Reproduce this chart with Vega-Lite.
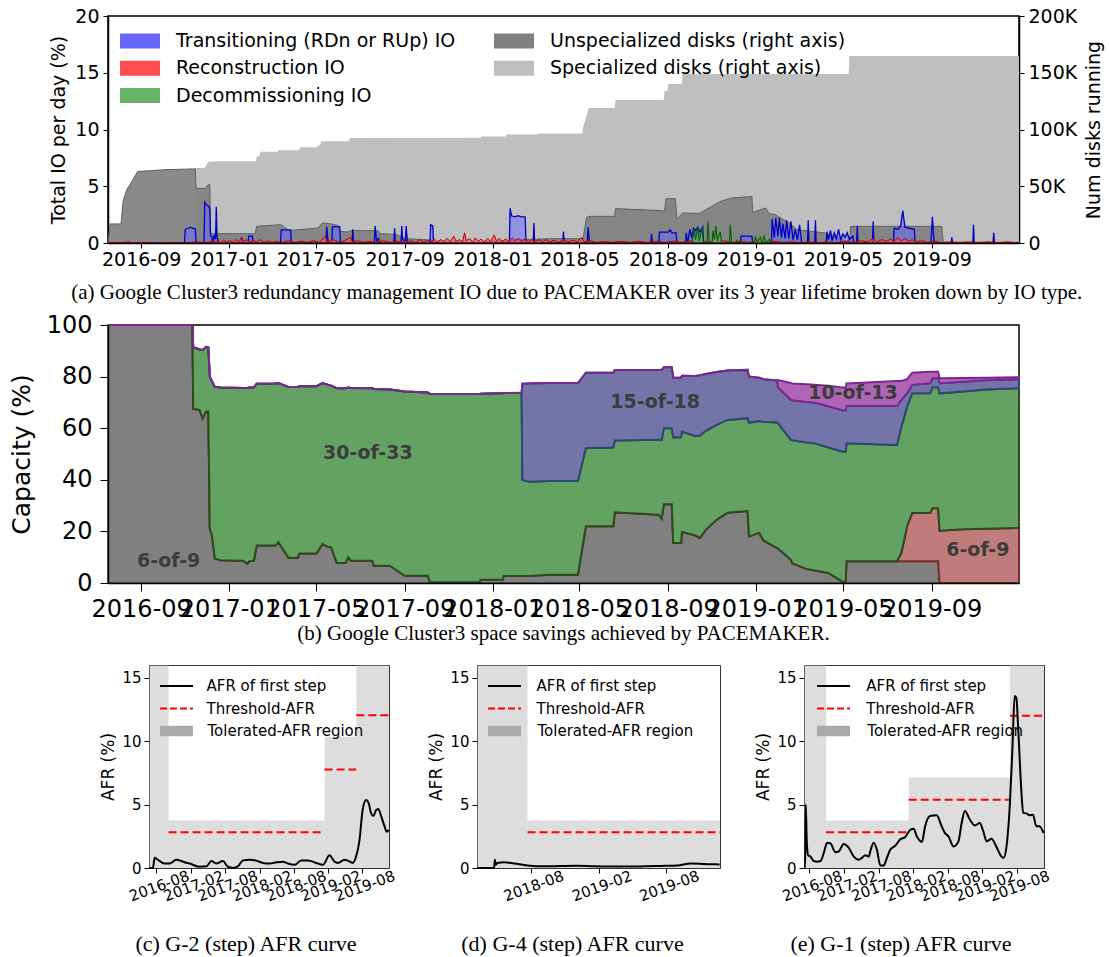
{
"$schema": "https://vega.github.io/schema/vega-lite/v6.json",
"background": "white",
"padding": {"left": 8, "top": 6, "right": 0, "bottom": 0},
"spacing": 8,
"resolve": {"scale": {"color": "independent", "stroke": "independent", "fill": "independent"}, "legend": {"color": "independent", "stroke": "independent", "fill": "independent"}},
"config": {
  "font": "DejaVu Sans",
  "axis": {"grid": false, "domainColor": "black", "tickColor": "black", "labelColor": "black", "titleColor": "black", "titleFontWeight": "normal", "labelFont": "DejaVu Sans", "titleFont": "DejaVu Sans"},
  "title": {"font": "Liberation Serif", "fontWeight": "normal", "color": "black", "orient": "bottom", "anchor": "middle"},
  "legend": {"labelFont": "DejaVu Sans", "labelColor": "black", "padding": 0, "labelLimit": 500}
},
"datasets": {
  "spec": [
    {"d":"2016-11-15","k":66},{"d":"2016-11-28","k":66},{"d":"2016-12-03","k":71.5},{"d":"2016-12-18","k":72},{"d":"2017-02-07","k":72},{"d":"2017-02-08","k":76.5},{"d":"2017-02-12","k":76.5},{"d":"2017-02-13","k":80.3},{"d":"2017-03-09","k":80.3},{"d":"2017-03-10","k":81.8},{"d":"2017-04-08","k":81.8},{"d":"2017-04-09","k":84.4},{"d":"2017-05-03","k":84.4},{"d":"2017-05-04","k":86.2},{"d":"2017-05-07","k":86.2},{"d":"2017-05-08","k":89.7},{"d":"2017-06-16","k":89.7},{"d":"2017-06-17","k":92.6},{"d":"2017-12-15","k":92.8},{"d":"2017-12-16","k":93.8},{"d":"2018-01-19","k":93.8},{"d":"2018-01-20","k":95.6},{"d":"2018-03-04","k":95.6},{"d":"2018-03-05","k":96.5},{"d":"2018-05-05","k":96.5},{"d":"2018-05-06","k":101.5},{"d":"2018-05-14","k":119},{"d":"2018-06-19","k":119},{"d":"2018-06-20","k":126},{"d":"2018-08-26","k":126},{"d":"2018-08-27","k":134},{"d":"2018-08-31","k":134},{"d":"2018-09-01","k":140},{"d":"2018-09-20","k":140},{"d":"2018-09-21","k":149},{"d":"2019-05-09","k":149},{"d":"2019-05-10","k":164.7},{"d":"2019-12-31","k":164.7}
  ],
  "unspec": [
    {"d":"2016-07-17","k":0},{"d":"2016-07-20","k":16.8},{"d":"2016-08-04","k":16.8},{"d":"2016-08-07","k":36.8},{"d":"2016-08-12","k":47},{"d":"2016-08-19","k":54},{"d":"2016-08-27","k":63},{"d":"2016-10-08","k":64.7},{"d":"2016-11-15","k":65.3},{"d":"2016-11-16","k":48},{"d":"2016-11-28","k":48},{"d":"2016-12-03","k":51.5},{"d":"2016-12-05","k":51.5},{"d":"2016-12-06","k":8.5},{"d":"2016-12-18","k":8.2},{"d":"2017-02-06","k":8.2},{"d":"2017-02-08","k":14.7},{"d":"2017-03-10","k":16},{"d":"2017-03-14","k":16},{"d":"2017-03-25","k":10.9},{"d":"2017-04-09","k":11.8},{"d":"2017-05-04","k":13.2},{"d":"2017-05-10","k":17.6},{"d":"2017-05-20","k":17},{"d":"2017-05-31","k":15.6},{"d":"2017-06-04","k":10.3},{"d":"2017-06-14","k":9.7},{"d":"2017-06-19","k":10.9},{"d":"2017-07-26","k":10.9},{"d":"2017-07-29","k":8.2},{"d":"2017-08-20","k":7.5},{"d":"2017-09-04","k":3.8},{"d":"2017-10-08","k":2.6},{"d":"2017-10-13","k":0.6},{"d":"2017-12-21","k":0.6},{"d":"2017-12-22","k":1.5},{"d":"2018-01-25","k":1.5},{"d":"2018-01-26","k":2.6},{"d":"2018-03-20","k":3.8},{"d":"2018-05-06","k":3.8},{"d":"2018-05-11","k":22.6},{"d":"2018-05-16","k":23.5},{"d":"2018-06-19","k":23.5},{"d":"2018-06-20","k":30.3},{"d":"2018-08-24","k":28.5},{"d":"2018-08-27","k":28},{"d":"2018-08-29","k":39},{"d":"2018-09-11","k":39},{"d":"2018-09-13","k":21},{"d":"2018-09-21","k":26.5},{"d":"2018-10-14","k":26},{"d":"2018-10-29","k":31.5},{"d":"2018-11-13","k":36.8},{"d":"2018-11-28","k":39.7},{"d":"2018-12-26","k":41},{"d":"2018-12-27","k":27},{"d":"2019-01-14","k":30.9},{"d":"2019-01-19","k":25.9},{"d":"2019-01-27","k":25},{"d":"2019-02-16","k":17.6},{"d":"2019-02-26","k":11.8},{"d":"2019-04-07","k":8.8},{"d":"2019-04-12","k":7.4},{"d":"2019-05-05","k":2},{"d":"2019-05-10","k":2},{"d":"2019-05-12","k":14.7},{"d":"2019-09-15","k":14.7},{"d":"2019-09-17","k":0.8},{"d":"2019-12-31","k":0.5}
  ],
  "tr": [
    {"d":"2016-07-17","v":0},{"d":"2016-10-31","v":0},{"d":"2016-11-01","v":1.2},{"d":"2016-11-05","v":1.3},{"d":"2016-11-08","v":1.4},{"d":"2016-11-11","v":1.3},{"d":"2016-11-15","v":1.25},{"d":"2016-11-16","v":0},{"d":"2016-11-27","v":0},{"d":"2016-11-28","v":3.6},{"d":"2016-11-30","v":3.4},{"d":"2016-12-02","v":3.3},{"d":"2016-12-05","v":3.1},{"d":"2016-12-06","v":0.7},{"d":"2016-12-08","v":0.5},{"d":"2016-12-09","v":0},{"d":"2016-12-11","v":0.7},{"d":"2016-12-13","v":0.3},{"d":"2016-12-14","v":3.2},{"d":"2016-12-15","v":0.6},{"d":"2016-12-17","v":0},
    {"d":"2017-01-17","v":0},{"d":"2017-01-18","v":0.5},{"d":"2017-01-19","v":0},{"d":"2017-01-27","v":0},{"d":"2017-01-28","v":0.6},{"d":"2017-02-02","v":0.6},{"d":"2017-02-03","v":0},{"d":"2017-03-13","v":0},{"d":"2017-03-14","v":1.15},{"d":"2017-03-27","v":1.15},{"d":"2017-03-28","v":0},{"d":"2017-05-15","v":0},{"d":"2017-05-16","v":1.45},{"d":"2017-05-18","v":0},{"d":"2017-05-23","v":0},{"d":"2017-05-24","v":1.45},{"d":"2017-06-03","v":1.45},{"d":"2017-06-04","v":0},{"d":"2017-06-20","v":0},{"d":"2017-06-21","v":1.2},{"d":"2017-06-22","v":0.2},{"d":"2017-06-24","v":0},{"d":"2017-07-21","v":0},{"d":"2017-07-22","v":1.5},{"d":"2017-07-24","v":0.2},{"d":"2017-07-27","v":0.4},{"d":"2017-07-28","v":0},{"d":"2017-08-17","v":0},{"d":"2017-08-18","v":1.3},{"d":"2017-08-19","v":0.2},{"d":"2017-08-21","v":0},{"d":"2017-08-27","v":0},{"d":"2017-08-28","v":1.5},{"d":"2017-08-29","v":0.3},{"d":"2017-09-02","v":0.2},{"d":"2017-09-03","v":1.5},{"d":"2017-09-05","v":0},{"d":"2017-10-06","v":0},{"d":"2017-10-07","v":1.6},{"d":"2017-10-10","v":1.5},{"d":"2017-10-11","v":0},
    {"d":"2018-01-24","v":0},{"d":"2018-01-25","v":3.05},{"d":"2018-01-27","v":2.4},{"d":"2018-02-01","v":2.3},{"d":"2018-02-05","v":2.4},{"d":"2018-02-10","v":2.3},{"d":"2018-02-15","v":2.3},{"d":"2018-02-16","v":0},{"d":"2018-02-26","v":0},{"d":"2018-02-27","v":1.75},{"d":"2018-02-28","v":0},{"d":"2018-04-08","v":0},{"d":"2018-04-09","v":1.0},{"d":"2018-04-10","v":0},{"d":"2018-05-12","v":0},{"d":"2018-05-13","v":1.4},{"d":"2018-05-15","v":0},{"d":"2018-08-08","v":0},{"d":"2018-08-09","v":0.8},{"d":"2018-08-10","v":0},{"d":"2018-08-19","v":0},{"d":"2018-08-20","v":0.95},{"d":"2018-09-01","v":0.95},{"d":"2018-09-04","v":1.15},{"d":"2018-09-06","v":0.9},{"d":"2018-09-12","v":0.9},{"d":"2018-09-13","v":0},{"d":"2018-09-25","v":0},{"d":"2018-09-26","v":0.9},{"d":"2018-09-28","v":0},{"d":"2018-10-01","v":1.2},{"d":"2018-10-04","v":0.4},{"d":"2018-10-06","v":1.3},{"d":"2018-10-09","v":1.1},{"d":"2018-10-12","v":1.4},{"d":"2018-10-15","v":1.0},{"d":"2018-10-19","v":1.4},{"d":"2018-10-20","v":0},{"d":"2018-12-10","v":0},{"d":"2018-12-11","v":0.6},{"d":"2018-12-26","v":0.6},{"d":"2018-12-27","v":0},
    {"d":"2019-01-22","v":0},{"d":"2019-01-23","v":2.1},{"d":"2019-01-26","v":0.5},{"d":"2019-01-28","v":2.2},{"d":"2019-01-31","v":0.6},{"d":"2019-02-02","v":2.2},{"d":"2019-02-05","v":0.5},{"d":"2019-02-07","v":1.7},{"d":"2019-02-10","v":0.4},{"d":"2019-02-12","v":2.0},{"d":"2019-02-15","v":0.4},{"d":"2019-02-18","v":1.9},{"d":"2019-02-21","v":0.3},{"d":"2019-02-24","v":1.2},{"d":"2019-02-27","v":0.3},{"d":"2019-03-02","v":1.6},{"d":"2019-03-05","v":0},{"d":"2019-03-13","v":0},{"d":"2019-03-14","v":2.0},{"d":"2019-03-15","v":0},{"d":"2019-03-23","v":0},{"d":"2019-03-24","v":2.0},{"d":"2019-03-25","v":0},{"d":"2019-04-08","v":0},{"d":"2019-04-09","v":1.0},{"d":"2019-04-11","v":0.3},{"d":"2019-04-14","v":1.1},{"d":"2019-04-16","v":0.2},{"d":"2019-04-19","v":0.9},{"d":"2019-04-22","v":0.4},{"d":"2019-04-25","v":1.2},{"d":"2019-04-28","v":0.3},{"d":"2019-05-01","v":0.8},{"d":"2019-05-04","v":0.5},{"d":"2019-05-07","v":0.9},{"d":"2019-05-10","v":0.3},{"d":"2019-05-15","v":0.6},{"d":"2019-05-16","v":0},{"d":"2019-05-20","v":0},{"d":"2019-05-21","v":1.5},{"d":"2019-05-22","v":0},{"d":"2019-06-11","v":0},{"d":"2019-06-12","v":1.9},{"d":"2019-06-13","v":0},{"d":"2019-07-10","v":0},{"d":"2019-07-11","v":1.3},{"d":"2019-07-16","v":1.2},{"d":"2019-07-20","v":1.5},{"d":"2019-07-23","v":2.85},{"d":"2019-07-26","v":1.4},{"d":"2019-08-01","v":1.3},{"d":"2019-08-08","v":1.2},{"d":"2019-08-09","v":0},{"d":"2019-08-31","v":0},{"d":"2019-09-02","v":2.3},{"d":"2019-09-04","v":0.3},{"d":"2019-09-06","v":0},{"d":"2019-09-28","v":0},{"d":"2019-09-29","v":0.5},{"d":"2019-09-30","v":0},{"d":"2019-10-28","v":0},{"d":"2019-10-29","v":1.6},{"d":"2019-10-30","v":0},{"d":"2019-11-25","v":0},{"d":"2019-11-26","v":0.9},{"d":"2019-11-27","v":0},{"d":"2019-12-31","v":0}
  ],
  "rc": [
    {"d":"2016-07-17","v":0},{"d":"2016-07-25","v":0.05},{"d":"2016-08-02","v":0},{"d":"2016-08-15","v":0.1},{"d":"2016-08-20","v":0},{"d":"2016-09-10","v":0.05},{"d":"2016-09-20","v":0},{"d":"2016-10-15","v":0.05},{"d":"2016-10-25","v":0},{"d":"2016-11-20","v":0.1},{"d":"2016-11-28","v":0},{"d":"2016-12-08","v":0.15},{"d":"2016-12-12","v":0.05},{"d":"2016-12-16","v":0.2},{"d":"2016-12-20","v":0.05},{"d":"2016-12-24","v":0.25},{"d":"2016-12-28","v":0.1},
    {"d":"2017-01-02","v":0.2},{"d":"2017-01-06","v":0.05},{"d":"2017-01-10","v":0.3},{"d":"2017-01-14","v":0.1},{"d":"2017-01-18","v":0.5},{"d":"2017-01-21","v":0.1},{"d":"2017-01-25","v":0.3},{"d":"2017-01-29","v":0.05},{"d":"2017-02-03","v":0.25},{"d":"2017-02-08","v":0.1},{"d":"2017-02-13","v":0.3},{"d":"2017-02-18","v":0.05},{"d":"2017-02-24","v":0.2},{"d":"2017-03-01","v":0.05},{"d":"2017-03-08","v":0.15},{"d":"2017-03-15","v":0.02},{"d":"2017-03-24","v":0.2},{"d":"2017-04-02","v":0.05},{"d":"2017-04-10","v":0.15},{"d":"2017-04-20","v":0.05},{"d":"2017-04-28","v":0.2},{"d":"2017-05-06","v":0.05},{"d":"2017-05-14","v":0.6},{"d":"2017-05-17","v":0.1},{"d":"2017-05-25","v":0.3},{"d":"2017-06-02","v":0.05},{"d":"2017-06-10","v":0.2},{"d":"2017-06-17","v":0.5},{"d":"2017-06-21","v":0.1},{"d":"2017-06-28","v":0.2},{"d":"2017-07-06","v":0.05},{"d":"2017-07-14","v":0.15},{"d":"2017-07-24","v":0.05},{"d":"2017-08-03","v":0.2},{"d":"2017-08-12","v":0.05},{"d":"2017-08-22","v":0.15},{"d":"2017-09-01","v":0.05},{"d":"2017-09-10","v":0.2},{"d":"2017-09-16","v":0.05},{"d":"2017-09-22","v":0.3},{"d":"2017-09-27","v":0.1},{"d":"2017-10-02","v":0.25},{"d":"2017-10-07","v":0.05},{"d":"2017-10-12","v":0.35},{"d":"2017-10-16","v":0.1},{"d":"2017-10-21","v":0.3},{"d":"2017-10-25","v":0.15},{"d":"2017-10-30","v":0.4},{"d":"2017-11-03","v":0.1},{"d":"2017-11-08","v":0.6},{"d":"2017-11-11","v":0.15},{"d":"2017-11-16","v":0.3},{"d":"2017-11-20","v":0.1},{"d":"2017-11-23","v":0.9},{"d":"2017-11-25","v":0.2},{"d":"2017-11-30","v":0.4},{"d":"2017-12-04","v":0.1},{"d":"2017-12-08","v":0.45},{"d":"2017-12-12","v":0.15},{"d":"2017-12-16","v":0.35},{"d":"2017-12-20","v":0.1},{"d":"2017-12-25","v":0.4},{"d":"2017-12-29","v":0.15},
    {"d":"2018-01-03","v":0.7},{"d":"2018-01-06","v":0.2},{"d":"2018-01-10","v":0.4},{"d":"2018-01-14","v":0.15},{"d":"2018-01-19","v":0.35},{"d":"2018-01-23","v":0.1},{"d":"2018-01-28","v":0.45},{"d":"2018-02-01","v":0.2},{"d":"2018-02-06","v":0.4},{"d":"2018-02-10","v":0.15},{"d":"2018-02-15","v":0.35},{"d":"2018-02-19","v":0.1},{"d":"2018-02-24","v":0.3},{"d":"2018-03-01","v":0.1},{"d":"2018-03-06","v":0.3},{"d":"2018-03-11","v":0.1},{"d":"2018-03-16","v":0.3},{"d":"2018-03-21","v":0.1},{"d":"2018-03-27","v":0.25},{"d":"2018-04-02","v":0.05},{"d":"2018-04-09","v":0.3},{"d":"2018-04-15","v":0.1},{"d":"2018-04-22","v":0.25},{"d":"2018-04-28","v":0.1},{"d":"2018-05-04","v":0.5},{"d":"2018-05-08","v":0.1},{"d":"2018-05-15","v":0.2},{"d":"2018-05-25","v":0.05},{"d":"2018-06-05","v":0.15},{"d":"2018-06-15","v":0.05},{"d":"2018-06-28","v":0.15},{"d":"2018-07-10","v":0.05},{"d":"2018-07-22","v":0.15},{"d":"2018-08-03","v":0.05},{"d":"2018-08-15","v":0.15},{"d":"2018-08-27","v":0.05},{"d":"2018-09-08","v":0.15},{"d":"2018-09-20","v":0.05},{"d":"2018-10-02","v":0.2},{"d":"2018-10-12","v":0.05},{"d":"2018-10-24","v":0.15},{"d":"2018-11-05","v":0.05},{"d":"2018-11-17","v":0.2},{"d":"2018-11-29","v":0.05},{"d":"2018-12-10","v":0.15},{"d":"2018-12-22","v":0.05},
    {"d":"2019-01-03","v":0.2},{"d":"2019-01-15","v":0.05},{"d":"2019-01-27","v":0.15},{"d":"2019-02-08","v":0.05},{"d":"2019-02-20","v":0.1},{"d":"2019-03-04","v":0.03},{"d":"2019-03-16","v":0.1},{"d":"2019-03-28","v":0.03},{"d":"2019-04-09","v":0.1},{"d":"2019-04-21","v":0.03},{"d":"2019-05-03","v":0.15},{"d":"2019-05-15","v":0.05},{"d":"2019-05-27","v":0.2},{"d":"2019-06-05","v":0.1},{"d":"2019-06-12","v":0.4},{"d":"2019-06-17","v":0.1},{"d":"2019-06-24","v":0.3},{"d":"2019-07-01","v":0.15},{"d":"2019-07-06","v":0.35},{"d":"2019-07-11","v":0.15},{"d":"2019-07-16","v":0.45},{"d":"2019-07-21","v":0.2},{"d":"2019-07-26","v":0.4},{"d":"2019-07-31","v":0.15},{"d":"2019-08-05","v":0.3},{"d":"2019-08-10","v":0.1},{"d":"2019-08-18","v":0.2},{"d":"2019-08-26","v":0.05},{"d":"2019-09-05","v":0.15},{"d":"2019-09-15","v":0.03},{"d":"2019-09-28","v":0.1},{"d":"2019-10-10","v":0.03},{"d":"2019-10-22","v":0.1},{"d":"2019-11-05","v":0.03},{"d":"2019-11-18","v":0.1},{"d":"2019-12-02","v":0.03},{"d":"2019-12-15","v":0.1},{"d":"2019-12-31","v":0}
  ],
  "dc": [
    {"d":"2018-10-04","v":0},{"d":"2018-10-07","v":1.2},{"d":"2018-10-09","v":0.3},{"d":"2018-10-12","v":1.4},{"d":"2018-10-14","v":0.2},{"d":"2018-10-18","v":1.3},{"d":"2018-10-20","v":0},{"d":"2018-10-25","v":0},{"d":"2018-10-26","v":1.9},{"d":"2018-10-28","v":0},{"d":"2018-11-01","v":0},{"d":"2018-11-02","v":1.1},{"d":"2018-11-04","v":0.3},{"d":"2018-11-06","v":1.5},{"d":"2018-11-08","v":0.2},{"d":"2018-11-12","v":1.0},{"d":"2018-11-14","v":0},{"d":"2018-11-25","v":0},{"d":"2018-11-26","v":1.6},{"d":"2018-11-28","v":0},{"d":"2018-12-04","v":0},{"d":"2018-12-05","v":0.2},{"d":"2018-12-07","v":0},{"d":"2018-12-29","v":0},{"d":"2018-12-31","v":0.5},{"d":"2019-01-02","v":0.1},{"d":"2019-01-07","v":0.5},{"d":"2019-01-09","v":0},{"d":"2019-01-12","v":0.6},{"d":"2019-01-14","v":0},{"d":"2019-01-19","v":0.3},{"d":"2019-01-21","v":0}
  ],
  "cap": [
    {"d":"2016-07-17","a_6of9":100,"b_6of9":0,"c_30of33":0,"d_15of18":0,"e_10of13":0},
    {"d":"2016-11-11","a_6of9":100,"b_6of9":0,"c_30of33":0,"d_15of18":0,"e_10of13":0},
    {"d":"2016-11-12","a_6of9":67.5,"b_6of9":0,"c_30of33":23.9,"d_15of18":0,"e_10of13":0},
    {"d":"2016-11-21","a_6of9":67,"b_6of9":0,"c_30of33":23.5,"d_15of18":0,"e_10of13":0},
    {"d":"2016-11-25","a_6of9":63.8,"b_6of9":0,"c_30of33":26.5,"d_15of18":0,"e_10of13":0},
    {"d":"2016-11-30","a_6of9":66.5,"b_6of9":0,"c_30of33":25,"d_15of18":0,"e_10of13":0},
    {"d":"2016-12-03","a_6of9":66.5,"b_6of9":0,"c_30of33":24.8,"d_15of18":0,"e_10of13":0},
    {"d":"2016-12-05","a_6of9":21,"b_6of9":0,"c_30of33":59,"d_15of18":0,"e_10of13":0},
    {"d":"2016-12-08","a_6of9":18.5,"b_6of9":0,"c_30of33":59.7,"d_15of18":0,"e_10of13":0},
    {"d":"2016-12-12","a_6of9":9.5,"b_6of9":0,"c_30of33":66.5,"d_15of18":0,"e_10of13":0},
    {"d":"2016-12-20","a_6of9":8.8,"b_6of9":0,"c_30of33":67,"d_15of18":0,"e_10of13":0},
    {"d":"2017-01-20","a_6of9":8.6,"b_6of9":0,"c_30of33":67,"d_15of18":0,"e_10of13":0},
    {"d":"2017-01-26","a_6of9":7.5,"b_6of9":0,"c_30of33":68.1,"d_15of18":0,"e_10of13":0},
    {"d":"2017-01-29","a_6of9":8.5,"b_6of9":0,"c_30of33":67.3,"d_15of18":0,"e_10of13":0},
    {"d":"2017-02-04","a_6of9":8.5,"b_6of9":0,"c_30of33":67.3,"d_15of18":0,"e_10of13":0},
    {"d":"2017-02-08","a_6of9":14.5,"b_6of9":0,"c_30of33":62.7,"d_15of18":0,"e_10of13":0},
    {"d":"2017-03-06","a_6of9":14.5,"b_6of9":0,"c_30of33":62.8,"d_15of18":0,"e_10of13":0},
    {"d":"2017-03-10","a_6of9":15.8,"b_6of9":0,"c_30of33":61.7,"d_15of18":0,"e_10of13":0},
    {"d":"2017-03-24","a_6of9":9.8,"b_6of9":0,"c_30of33":66.2,"d_15of18":0,"e_10of13":0},
    {"d":"2017-04-06","a_6of9":9.8,"b_6of9":0,"c_30of33":66.2,"d_15of18":0,"e_10of13":0},
    {"d":"2017-04-08","a_6of9":11.4,"b_6of9":0,"c_30of33":64.9,"d_15of18":0,"e_10of13":0},
    {"d":"2017-05-02","a_6of9":11.4,"b_6of9":0,"c_30of33":64.9,"d_15of18":0,"e_10of13":0},
    {"d":"2017-05-10","a_6of9":15.2,"b_6of9":0,"c_30of33":62.3,"d_15of18":0,"e_10of13":0},
    {"d":"2017-05-16","a_6of9":14.2,"b_6of9":0,"c_30of33":62.8,"d_15of18":0,"e_10of13":0},
    {"d":"2017-05-22","a_6of9":13.8,"b_6of9":0,"c_30of33":62.7,"d_15of18":0,"e_10of13":0},
    {"d":"2017-05-30","a_6of9":7.8,"b_6of9":0,"c_30of33":67.7,"d_15of18":0,"e_10of13":0},
    {"d":"2017-06-11","a_6of9":7.8,"b_6of9":0,"c_30of33":67.7,"d_15of18":0,"e_10of13":0},
    {"d":"2017-06-15","a_6of9":10,"b_6of9":0,"c_30of33":65.8,"d_15of18":0,"e_10of13":0},
    {"d":"2017-06-18","a_6of9":8.7,"b_6of9":0,"c_30of33":66.9,"d_15of18":0,"e_10of13":0},
    {"d":"2017-07-18","a_6of9":8.6,"b_6of9":0,"c_30of33":66.9,"d_15of18":0,"e_10of13":0},
    {"d":"2017-07-20","a_6of9":6.8,"b_6of9":0,"c_30of33":68.4,"d_15of18":0,"e_10of13":0},
    {"d":"2017-08-12","a_6of9":6.6,"b_6of9":0,"c_30of33":68.4,"d_15of18":0,"e_10of13":0},
    {"d":"2017-09-01","a_6of9":2.8,"b_6of9":0,"c_30of33":71.4,"d_15of18":0,"e_10of13":0},
    {"d":"2017-10-03","a_6of9":2.8,"b_6of9":0,"c_30of33":71,"d_15of18":0,"e_10of13":0},
    {"d":"2017-10-06","a_6of9":0.3,"b_6of9":0,"c_30of33":73,"d_15of18":0,"e_10of13":0},
    {"d":"2017-12-14","a_6of9":0.3,"b_6of9":0,"c_30of33":73,"d_15of18":0,"e_10of13":0},
    {"d":"2017-12-15","a_6of9":1.3,"b_6of9":0,"c_30of33":72.1,"d_15of18":0,"e_10of13":0},
    {"d":"2018-01-15","a_6of9":1.3,"b_6of9":0,"c_30of33":72.2,"d_15of18":0,"e_10of13":0},
    {"d":"2018-01-16","a_6of9":2.7,"b_6of9":0,"c_30of33":70.9,"d_15of18":0,"e_10of13":0},
    {"d":"2018-02-10","a_6of9":2.7,"b_6of9":0,"c_30of33":71,"d_15of18":0,"e_10of13":0},
    {"d":"2018-02-11","a_6of9":2.7,"b_6of9":0,"c_30of33":37.3,"d_15of18":37.2,"e_10of13":0},
    {"d":"2018-02-20","a_6of9":2.7,"b_6of9":0,"c_30of33":36.5,"d_15of18":38.1,"e_10of13":0},
    {"d":"2018-03-20","a_6of9":3.2,"b_6of9":0,"c_30of33":36.3,"d_15of18":38,"e_10of13":0},
    {"d":"2018-04-29","a_6of9":3.2,"b_6of9":0,"c_30of33":36.3,"d_15of18":38,"e_10of13":0},
    {"d":"2018-05-10","a_6of9":22,"b_6of9":0,"c_30of33":30.3,"d_15of18":29.2,"e_10of13":0},
    {"d":"2018-06-17","a_6of9":22,"b_6of9":0,"c_30of33":30.5,"d_15of18":29,"e_10of13":0},
    {"d":"2018-06-19","a_6of9":27.4,"b_6of9":0,"c_30of33":27.8,"d_15of18":27.4,"e_10of13":0},
    {"d":"2018-08-19","a_6of9":26.5,"b_6of9":0,"c_30of33":29,"d_15of18":27.1,"e_10of13":0},
    {"d":"2018-08-23","a_6of9":25,"b_6of9":0,"c_30of33":30.5,"d_15of18":27.1,"e_10of13":0},
    {"d":"2018-08-26","a_6of9":30.5,"b_6of9":0,"c_30of33":29.5,"d_15of18":23.6,"e_10of13":0},
    {"d":"2018-09-06","a_6of9":30.5,"b_6of9":0,"c_30of33":29.5,"d_15of18":23.6,"e_10of13":0},
    {"d":"2018-09-08","a_6of9":15.5,"b_6of9":0,"c_30of33":41,"d_15of18":23.1,"e_10of13":0},
    {"d":"2018-09-19","a_6of9":15.5,"b_6of9":0,"c_30of33":41,"d_15of18":23.1,"e_10of13":0},
    {"d":"2018-09-20","a_6of9":19.8,"b_6of9":0,"c_30of33":38.9,"d_15of18":21.6,"e_10of13":0},
    {"d":"2018-10-08","a_6of9":18.5,"b_6of9":0,"c_30of33":38.5,"d_15of18":23.2,"e_10of13":0},
    {"d":"2018-10-15","a_6of9":17.5,"b_6of9":0,"c_30of33":39.7,"d_15of18":23.3,"e_10of13":0},
    {"d":"2018-10-23","a_6of9":20.6,"b_6of9":0,"c_30of33":38.4,"d_15of18":22,"e_10of13":0},
    {"d":"2018-11-07","a_6of9":24.5,"b_6of9":0,"c_30of33":36.8,"d_15of18":20.5,"e_10of13":0},
    {"d":"2018-11-22","a_6of9":27.2,"b_6of9":0,"c_30of33":36,"d_15of18":19.2,"e_10of13":0},
    {"d":"2018-12-20","a_6of9":27.9,"b_6of9":0,"c_30of33":36,"d_15of18":18.7,"e_10of13":0},
    {"d":"2018-12-22","a_6of9":18,"b_6of9":0,"c_30of33":44.2,"d_15of18":17.8,"e_10of13":0},
    {"d":"2019-01-05","a_6of9":19.5,"b_6of9":0,"c_30of33":43.3,"d_15of18":16.8,"e_10of13":0},
    {"d":"2019-01-11","a_6of9":16.5,"b_6of9":0,"c_30of33":46,"d_15of18":16.5,"e_10of13":0},
    {"d":"2019-01-30","a_6of9":13.5,"b_6of9":0,"c_30of33":48.7,"d_15of18":16.3,"e_10of13":0},
    {"d":"2019-01-31","a_6of9":13.4,"b_6of9":0,"c_30of33":48.6,"d_15of18":13.9,"e_10of13":2.8},
    {"d":"2019-02-18","a_6of9":9,"b_6of9":0,"c_30of33":46.5,"d_15of18":15.5,"e_10of13":6.5},
    {"d":"2019-02-20","a_6of9":7.7,"b_6of9":0,"c_30of33":47.6,"d_15of18":15.5,"e_10of13":6.5},
    {"d":"2019-03-12","a_6of9":5.4,"b_6of9":0,"c_30of33":49.1,"d_15of18":15.7,"e_10of13":6.8},
    {"d":"2019-03-22","a_6of9":4.9,"b_6of9":0,"c_30of33":49.3,"d_15of18":15.8,"e_10of13":6.8},
    {"d":"2019-04-11","a_6of9":3.9,"b_6of9":0,"c_30of33":48.6,"d_15of18":16,"e_10of13":8},
    {"d":"2019-04-30","a_6of9":0.6,"b_6of9":0,"c_30of33":50.4,"d_15of18":16,"e_10of13":8.8},
    {"d":"2019-05-05","a_6of9":0.5,"b_6of9":0,"c_30of33":50.5,"d_15of18":16,"e_10of13":8.8},
    {"d":"2019-05-06","a_6of9":8.4,"b_6of9":0,"c_30of33":45.8,"d_15of18":14.4,"e_10of13":8.7},
    {"d":"2019-07-15","a_6of9":8.4,"b_6of9":0,"c_30of33":45.1,"d_15of18":15.1,"e_10of13":9.7},
    {"d":"2019-07-21","a_6of9":8.4,"b_6of9":3.2,"c_30of33":49,"d_15of18":10.4,"e_10of13":7.3},
    {"d":"2019-07-29","a_6of9":8.4,"b_6of9":13.6,"c_30of33":46.4,"d_15of18":5.1,"e_10of13":5.5},
    {"d":"2019-08-05","a_6of9":8.4,"b_6of9":18.7,"c_30of33":46.4,"d_15of18":3.3,"e_10of13":4.7},
    {"d":"2019-08-30","a_6of9":8.4,"b_6of9":18.7,"c_30of33":46.4,"d_15of18":3.9,"e_10of13":4.5},
    {"d":"2019-09-02","a_6of9":8.4,"b_6of9":20.6,"c_30of33":46.9,"d_15of18":3.5,"e_10of13":2.5},
    {"d":"2019-09-10","a_6of9":8.4,"b_6of9":20.6,"c_30of33":46.9,"d_15of18":3.5,"e_10of13":2.5},
    {"d":"2019-09-12","a_6of9":0,"b_6of9":20.3,"c_30of33":53.2,"d_15of18":3.9,"e_10of13":2},
    {"d":"2019-10-15","a_6of9":0,"b_6of9":20.8,"c_30of33":53.4,"d_15of18":3.8,"e_10of13":1.5},
    {"d":"2019-11-15","a_6of9":0,"b_6of9":21,"c_30of33":54,"d_15of18":3.6,"e_10of13":1},
    {"d":"2019-12-31","a_6of9":0,"b_6of9":21.3,"c_30of33":54.2,"d_15of18":3.5,"e_10of13":0.8}
  ],
  "capLabels": [
    {"d":"2017-07-12","v":50.3,"t":"30-of-33"},
    {"d":"2016-10-09","v":8.4,"t":"6-of-9"},
    {"d":"2018-08-14","v":70.3,"t":"15-of-18"},
    {"d":"2019-05-15","v":73.8,"t":"10-of-13"},
    {"d":"2019-11-04","v":12.6,"t":"6-of-9"}
  ],
  "c_reg": [{"x1":"2016-06-23","x2":"2016-10-05","y":16},{"x1":"2016-10-05","x2":"2019-01-13","y":3.74},{"x1":"2019-01-13","x2":"2019-07-01","y":10.34},{"x1":"2019-07-01","x2":"2019-12-22","y":16}],
  "c_thr": [{"x1":"2016-10-05","x2":"2019-01-13","y":2.82},{"x1":"2019-01-13","x2":"2019-07-01","y":7.76},{"x1":"2019-07-01","x2":"2019-12-22","y":12.03}],
  "c_afr": [
    {"d":"2016-06-23","v":0},{"d":"2016-07-14","v":0},{"d":"2016-07-23","v":0.8},{"d":"2016-08-09","v":0.65},{"d":"2016-09-14","v":0.35},{"d":"2016-10-10","v":0.35},{"d":"2016-11-15","v":0.65},{"d":"2016-12-12","v":0.55},{"d":"2016-12-29","v":0.45},{"d":"2017-01-25","v":0.35},{"d":"2017-03-19","v":0.1},{"d":"2017-04-24","v":0.13},{"d":"2017-05-21","v":0.55},{"d":"2017-06-16","v":0.35},{"d":"2017-07-21","v":0.55},{"d":"2017-08-17","v":0.1},{"d":"2017-09-13","v":0.0},{"d":"2017-10-09","v":0.13},{"d":"2017-11-05","v":0.6},{"d":"2017-12-11","v":0.65},{"d":"2018-01-15","v":0.58},{"d":"2018-02-19","v":0.4},{"d":"2018-03-27","v":0.35},{"d":"2018-05-02","v":0.45},{"d":"2018-06-06","v":0.5},{"d":"2018-07-02","v":0.35},{"d":"2018-08-07","v":0.25},{"d":"2018-09-11","v":0.6},{"d":"2018-10-16","v":0.6},{"d":"2018-11-30","v":0.4},{"d":"2019-01-04","v":0.25},{"d":"2019-02-09","v":1.0},{"d":"2019-03-07","v":0.5},{"d":"2019-03-25","v":0.4},{"d":"2019-04-30","v":0.65},{"d":"2019-05-17","v":0.58},{"d":"2019-06-12","v":0.4},{"d":"2019-06-30","v":0.9},{"d":"2019-07-18","v":2.2},{"d":"2019-08-04","v":4.6},{"d":"2019-08-22","v":5.35},{"d":"2019-09-05","v":5.1},{"d":"2019-09-18","v":4.3},{"d":"2019-09-30","v":4.1},{"d":"2019-10-14","v":4.55},{"d":"2019-10-26","v":4.65},{"d":"2019-11-10","v":4.1},{"d":"2019-11-28","v":3.3},{"d":"2019-12-10","v":2.85},{"d":"2019-12-21","v":3.0}
  ],
  "d_reg": [{"x1":"2018-03-09","x2":"2018-07-23","y":16},{"x1":"2018-07-23","x2":"2019-12-23","y":3.74}],
  "d_thr": [{"x1":"2018-07-23","x2":"2019-12-23","y":2.82}],
  "d_afr": [
    {"d":"2018-03-09","v":0},{"d":"2018-04-24","v":0},{"d":"2018-04-26","v":0.65},{"d":"2018-04-29","v":0.25},{"d":"2018-05-03","v":0.4},{"d":"2018-05-21","v":0.45},{"d":"2018-06-17","v":0.35},{"d":"2018-07-23","v":0.2},{"d":"2018-09-06","v":0.13},{"d":"2018-10-20","v":0.16},{"d":"2018-12-04","v":0.18},{"d":"2019-01-18","v":0.13},{"d":"2019-03-04","v":0.11},{"d":"2019-04-18","v":0.11},{"d":"2019-06-02","v":0.13},{"d":"2019-07-16","v":0.16},{"d":"2019-08-30","v":0.2},{"d":"2019-10-05","v":0.35},{"d":"2019-11-28","v":0.3},{"d":"2019-12-22","v":0.28}
  ],
  "e_reg": [{"x1":"2016-07-03","x2":"2016-10-28","y":16},{"x1":"2016-10-28","x2":"2018-01-07","y":3.74},{"x1":"2018-01-07","x2":"2019-06-26","y":7.13},{"x1":"2019-06-26","x2":"2019-12-23","y":16}],
  "e_thr": [{"x1":"2016-10-28","x2":"2018-01-07","y":2.82},{"x1":"2018-01-07","x2":"2019-06-26","y":5.37},{"x1":"2019-06-26","x2":"2019-12-23","y":12.0}],
  "e_afr": [
    {"d":"2016-07-03","v":0},{"d":"2016-07-09","v":0},{"d":"2016-07-12","v":5.0},{"d":"2016-07-18","v":2.0},{"d":"2016-07-25","v":1.0},{"d":"2016-08-06","v":0.9},{"d":"2016-08-24","v":0.55},{"d":"2016-09-10","v":0.5},{"d":"2016-09-28","v":0.55},{"d":"2016-10-16","v":1.2},{"d":"2016-11-02","v":2.0},{"d":"2016-11-19","v":1.95},{"d":"2016-12-16","v":1.25},{"d":"2017-01-02","v":1.3},{"d":"2017-01-29","v":1.9},{"d":"2017-02-24","v":1.6},{"d":"2017-03-23","v":0.9},{"d":"2017-04-18","v":0.65},{"d":"2017-05-05","v":0.8},{"d":"2017-05-23","v":1.0},{"d":"2017-06-10","v":0.9},{"d":"2017-06-18","v":1.3},{"d":"2017-07-06","v":2.0},{"d":"2017-07-23","v":1.45},{"d":"2017-08-10","v":0.2},{"d":"2017-08-28","v":0.2},{"d":"2017-09-14","v":0.8},{"d":"2017-10-02","v":1.45},{"d":"2017-10-28","v":1.75},{"d":"2017-11-23","v":2.25},{"d":"2017-12-20","v":2.45},{"d":"2018-01-15","v":3.0},{"d":"2018-02-02","v":3.1},{"d":"2018-02-19","v":2.5},{"d":"2018-03-18","v":2.05},{"d":"2018-04-04","v":3.3},{"d":"2018-04-30","v":4.1},{"d":"2018-06-04","v":4.15},{"d":"2018-06-30","v":3.3},{"d":"2018-07-18","v":2.75},{"d":"2018-08-05","v":2.5},{"d":"2018-09-01","v":1.7},{"d":"2018-09-27","v":2.1},{"d":"2018-10-14","v":3.55},{"d":"2018-10-31","v":4.5},{"d":"2018-11-27","v":3.8},{"d":"2018-12-23","v":3.35},{"d":"2019-01-18","v":3.55},{"d":"2019-02-05","v":2.9},{"d":"2019-02-23","v":2.1},{"d":"2019-03-21","v":2.3},{"d":"2019-04-16","v":1.65},{"d":"2019-05-12","v":0.9},{"d":"2019-05-24","v":0.8},{"d":"2019-06-08","v":1.7},{"d":"2019-06-25","v":4.85},{"d":"2019-07-09","v":9.35},{"d":"2019-07-21","v":13.55},{"d":"2019-07-30","v":13.4},{"d":"2019-08-08","v":11.2},{"d":"2019-08-26","v":5.9},{"d":"2019-09-04","v":4.35},{"d":"2019-09-21","v":4.3},{"d":"2019-10-08","v":4.15},{"d":"2019-10-26","v":4.2},{"d":"2019-11-12","v":3.3},{"d":"2019-11-29","v":3.3},{"d":"2019-12-21","v":2.75}
  ]
},
"vconcat": [
  {
    "width": 911, "height": 227,
    "view": {"stroke": "black", "strokeWidth": 1.5},
    "title": {"text": "(a) Google Cluster3 redundancy management IO due to PACEMAKER over its 3 year lifetime broken down by IO type.", "fontSize": 21, "offset": 13, "frame": "bounds"},
    "encoding": {
      "x": {"field": "d", "type": "temporal",
        "scale": {"type": "utc", "domain": [{"year":2016,"month":7,"date":17,"utc":true},{"year":2019,"month":12,"date":31,"utc":true}]},
        "axis": {"title": null, "format": "%Y-%m", "labelFontSize": 19, "tickSize": 5, "labelPadding": 2, "labelOverlap": false, "domainWidth": 1.5, "zindex": 1,
          "values": [{"year":2016,"month":9,"date":1,"utc":true},{"year":2017,"month":1,"date":1,"utc":true},{"year":2017,"month":5,"date":1,"utc":true},{"year":2017,"month":9,"date":1,"utc":true},{"year":2018,"month":1,"date":1,"utc":true},{"year":2018,"month":5,"date":1,"utc":true},{"year":2018,"month":9,"date":1,"utc":true},{"year":2019,"month":1,"date":1,"utc":true},{"year":2019,"month":5,"date":1,"utc":true},{"year":2019,"month":9,"date":1,"utc":true}]}}
    },
    "layer": [
      {
        "encoding": {"y": {"field": "k", "type": "quantitative", "scale": {"domain": [0, 200]},
          "axis": {"orient": "right", "values": [0, 50, 100, 150, 200], "labelExpr": "datum.value == 0 ? '0' : datum.value + 'K'", "title": "Num disks running", "titleFontSize": 19, "labelFontSize": 19, "tickSize": 5, "labelPadding": 4, "titlePadding": 8, "titleAngle": 270, "titleBaseline": "top", "domainWidth": 1.5}}},
        "layer": [
          {"data": {"name": "spec"}, "mark": {"type": "area"},
           "encoding": {"color": {"datum": "Specialized disks (right axis)", "type": "nominal",
             "scale": {"domain": ["Transitioning (RDn or RUp) IO", "Reconstruction IO", "Decommissioning IO", "Unspecialized disks (right axis)", "Specialized disks (right axis)"], "range": ["#6666ff", "#ff4d4d", "#66b366", "#808080", "#bfbfbf"]},
             "legend": {"orient": "none", "legendX": 12, "legendY": 15, "title": null, "columns": 2, "columnPadding": 38, "rowPadding": 7.3, "labelFontSize": 19, "labelLimit": 500, "labelOffset": 26, "symbolOffset": 10, "symbolType": "M-2,-0.75H2V0.75H-2Z", "symbolSize": 400, "symbolStrokeWidth": 0, "symbolOpacity": 1, "padding": 0,
               "encode": {"symbols": {"update": {"fillOpacity": {"value": 1}, "strokeWidth": {"value": 0}}}}}}}},
          {"data": {"name": "unspec"}, "mark": {"type": "area", "stroke": "#606060", "strokeWidth": 1, "fillOpacity": 0.92},
           "encoding": {"color": {"datum": "Unspecialized disks (right axis)", "type": "nominal"}}}
        ]
      },
      {
        "encoding": {"y": {"field": "v", "type": "quantitative", "scale": {"domain": [0, 20]},
          "axis": {"orient": "left", "values": [0, 5, 10, 15, 20], "title": "Total IO per day (%)", "titleFontSize": 19, "labelFontSize": 19, "tickSize": 5, "labelPadding": 4, "titlePadding": 6, "domainWidth": 1.5}}},
        "layer": [
          {"data": {"name": "tr"}, "mark": {"type": "area", "fillOpacity": 0.5, "stroke": "#0000c8", "strokeWidth": 1.3},
           "encoding": {"color": {"datum": "Transitioning (RDn or RUp) IO", "type": "nominal"}}},
          {"data": {"name": "rc"}, "mark": {"type": "area", "fillOpacity": 0.6, "stroke": "#b40000", "strokeWidth": 1},
           "encoding": {"color": {"datum": "Reconstruction IO", "type": "nominal"}}},
          {"data": {"name": "dc"}, "mark": {"type": "area", "fillOpacity": 0.6, "stroke": "#006400", "strokeWidth": 1.2},
           "encoding": {"color": {"datum": "Decommissioning IO", "type": "nominal"}}}
        ]
      }
    ],
    "resolve": {"scale": {"y": "independent"}}
  },
  {
    "width": 911, "height": 258,
    "view": {"stroke": "black", "strokeWidth": 1.5},
    "title": {"text": "(b) Google Cluster3 space savings achieved by PACEMAKER.", "subtitle": " ", "subtitleFontSize": 11, "subtitlePadding": 0, "frame": "group", "fontSize": 21, "offset": 2},
    "layer": [
      {"data": {"name": "cap"},
       "transform": [{"fold": ["a_6of9", "b_6of9", "c_30of33", "d_15of18", "e_10of13"], "as": ["k", "v"]}],
       "mark": {"type": "area", "strokeWidth": 2},
       "encoding": {
         "x": {"field": "d", "type": "temporal",
           "scale": {"type": "utc", "domain": [{"year":2016,"month":7,"date":17,"utc":true},{"year":2019,"month":12,"date":31,"utc":true}]},
           "axis": {"title": null, "format": "%Y-%m", "labelFontSize": 24, "tickSize": 8, "labelPadding": 6, "labelOverlap": false, "domainWidth": 1.5, "zindex": 1,
             "values": [{"year":2016,"month":9,"date":1,"utc":true},{"year":2017,"month":1,"date":1,"utc":true},{"year":2017,"month":5,"date":1,"utc":true},{"year":2017,"month":9,"date":1,"utc":true},{"year":2018,"month":1,"date":1,"utc":true},{"year":2018,"month":5,"date":1,"utc":true},{"year":2018,"month":9,"date":1,"utc":true},{"year":2019,"month":1,"date":1,"utc":true},{"year":2019,"month":5,"date":1,"utc":true},{"year":2019,"month":9,"date":1,"utc":true}]}},
         "y": {"field": "v", "type": "quantitative", "stack": "zero", "scale": {"domain": [0, 100]},
           "axis": {"values": [0, 20, 40, 60, 80, 100], "title": "Capacity (%)", "titleFontSize": 25, "labelFontSize": 24, "tickSize": 8, "labelPadding": 8, "titlePadding": 12, "domainWidth": 1.5, "zindex": 1}},
         "color": {"field": "k", "type": "nominal", "legend": null,
           "scale": {"domain": ["a_6of9", "b_6of9", "c_30of33", "d_15of18", "e_10of13"], "range": ["#808080", "#c07c7c", "#64a264", "#7474a8", "#b064b4"]}},
         "stroke": {"field": "k", "type": "nominal", "legend": null,
           "scale": {"domain": ["a_6of9", "b_6of9", "c_30of33", "d_15of18", "e_10of13"], "range": ["#5a5a5a", "#7a2a2a", "#2f4a1e", "#2c4a72", "#7a2890"]}},
         "order": {"field": "k", "type": "ordinal", "sort": "ascending"}
       }},
      {"data": {"name": "capLabels"},
       "mark": {"type": "text", "font": "DejaVu Sans", "fontWeight": "bold", "fontSize": 19, "fill": "#3c3c3c", "align": "center", "baseline": "middle"},
       "encoding": {"x": {"field": "d", "type": "temporal"}, "y": {"field": "v", "type": "quantitative"}, "text": {"field": "t"}}}
    ]
  },
  {
    "spacing": -13,
    "resolve": {"scale": {"color": "independent", "fill": "independent"}, "legend": {"color": "independent", "fill": "independent"}},
    "hconcat": [
      {"width": 1, "height": 10, "view": {"stroke": null}, "data": {"values": [{"z": 0}]}, "mark": {"type": "point", "opacity": 0}, "encoding": {}},
      {
        "spacing": 29,
        "resolve": {"scale": {"color": "independent", "fill": "independent"}, "legend": {"color": "independent", "fill": "independent"}},
        "hconcat": [
          {
            "width": 240, "height": 203,
            "view": {"stroke": "#333333", "strokeWidth": 1},
            "title": {"text": "(c) G-2 (step) AFR curve", "fontSize": 22, "offset": 30, "frame": "group", "dx": -23},
            "resolve": {"axis": {"x": "independent"}},
            "layer": [
              {"data": {"name": "c_reg"}, "mark": {"type": "rect", "fillOpacity": 0.4},
               "encoding": {
                 "x": {"field": "x1", "type": "temporal", "scale": {"type": "utc", "domain": [{"year":2016,"month":6,"date":23,"utc":true},{"year":2019,"month":12,"date":22,"utc":true}]},
                   "axis": {"orient": "bottom", "title": null, "format": "%Y-%m", "labelAngle": -20, "labelAlign": "center", "labelBaseline": "top", "labelFontSize": 15, "tickSize": 5, "labelPadding": 6, "labelOverlap": false, "domainColor": "#333333",
                     "values": [{"year":2016,"month":8,"date":1,"utc":true},{"year":2017,"month":8,"date":1,"utc":true},{"year":2018,"month":8,"date":1,"utc":true},{"year":2019,"month":8,"date":1,"utc":true}]}},
                 "x2": {"field": "x2"},
                 "y": {"field": "y", "type": "quantitative", "scale": {"domain": [0, 16]},
                   "axis": {"title": "AFR (%)", "values": [0, 5, 10, 15], "labelFontSize": 15, "titleFontSize": 17, "tickSize": 5, "labelPadding": 3, "titlePadding": 4, "domainColor": "#333333"}},
                 "y2": {"datum": 0},
                 "fill": {"datum": "Tolerated-AFR region", "type": "nominal",
                   "scale": {"domain": ["Tolerated-AFR region"], "range": ["#aaaaaa"]},
                   "legend": {"orient": "none", "legendX": 11, "legendY": 57.5, "title": null, "padding": 0, "labelFontSize": 15, "labelLimit": 500, "symbolSize": 272, "symbolStrokeWidth": 0, "symbolOffset": 8, "labelOffset": 22.5, "symbolType": "M-2,-0.65H2V0.65H-2Z", "symbolOpacity": 1,
                     "encode": {"symbols": {"update": {"fillOpacity": {"value": 1}, "opacity": {"value": 1}, "strokeWidth": {"value": 0}}}}}}}},
              {"data": {"name": "c_thr"}, "mark": {"type": "rule", "strokeDash": [8, 4], "strokeWidth": 2},
               "encoding": {"x": {"field": "x1", "type": "temporal",
                   "axis": {"orient": "bottom", "title": null, "domain": false, "format": "%Y-%m", "labelAngle": -20, "labelAlign": "center", "labelBaseline": "top", "labelFontSize": 15, "tickSize": 5, "labelPadding": 6, "labelOverlap": false,
                     "values": [{"year":2017,"month":2,"date":1,"utc":true},{"year":2018,"month":2,"date":1,"utc":true},{"year":2019,"month":2,"date":1,"utc":true}]}},
                 "x2": {"field": "x2"}, "y": {"field": "y", "type": "quantitative"},
                 "color": {"datum": "Threshold-AFR", "type": "nominal",
                   "scale": {"domain": ["AFR of first step", "Threshold-AFR"], "range": ["black", "red"]},
                   "legend": {"orient": "none", "legendX": 11, "legendY": 11.5, "title": null, "padding": 0, "labelFontSize": 15, "labelLimit": 500, "symbolSize": 272, "symbolStrokeWidth": 2, "symbolOffset": 7, "labelOffset": 20.5, "rowPadding": 4.6, "symbolType": "M-2,0H2",
                     "encode": {"symbols": {"update": {
                       "strokeWidth": {"value": 2},
                       "strokeDash": {"signal": "datum.value === 'Threshold-AFR' ? [7, 3] : [1, 0]"},
                       "opacity": {"value": 1}}}}}}}},
              {"data": {"name": "c_afr"}, "mark": {"type": "line", "interpolate": "monotone", "strokeWidth": 2},
               "encoding": {"x": {"field": "d", "type": "temporal", "axis": null}, "y": {"field": "v", "type": "quantitative"}, "color": {"datum": "AFR of first step", "type": "nominal"}}}
            ]
          },
          {
            "width": 243, "height": 203,
            "view": {"stroke": "#333333", "strokeWidth": 1},
            "title": {"text": "(d) G-4 (step) AFR curve", "fontSize": 22, "offset": 30, "frame": "group", "dx": -26},
            "layer": [
              {"data": {"name": "d_reg"}, "mark": {"type": "rect", "fillOpacity": 0.4},
               "encoding": {
                 "x": {"field": "x1", "type": "temporal", "scale": {"type": "utc", "domain": [{"year":2018,"month":3,"date":9,"utc":true},{"year":2019,"month":12,"date":23,"utc":true}]},
                   "axis": {"title": null, "format": "%Y-%m", "labelAngle": -20, "labelAlign": "center", "labelBaseline": "top", "labelFontSize": 15, "tickSize": 5, "labelPadding": 6, "labelOverlap": false, "domainColor": "#333333",
                     "values": [{"year":2018,"month":8,"date":1,"utc":true},{"year":2019,"month":2,"date":1,"utc":true},{"year":2019,"month":8,"date":1,"utc":true}]}},
                 "x2": {"field": "x2"},
                 "y": {"field": "y", "type": "quantitative", "scale": {"domain": [0, 16]},
                   "axis": {"title": "AFR (%)", "values": [0, 5, 10, 15], "labelFontSize": 15, "titleFontSize": 17, "tickSize": 5, "labelPadding": 3, "titlePadding": 4, "domainColor": "#333333"}},
                 "y2": {"datum": 0},
                 "fill": {"datum": "Tolerated-AFR region", "type": "nominal",
                   "scale": {"domain": ["Tolerated-AFR region"], "range": ["#aaaaaa"]},
                   "legend": {"orient": "none", "legendX": 11, "legendY": 57.5, "title": null, "padding": 0, "labelFontSize": 15, "labelLimit": 500, "symbolSize": 272, "symbolStrokeWidth": 0, "symbolOffset": 8, "labelOffset": 24.5, "symbolType": "M-2,-0.65H2V0.65H-2Z", "symbolOpacity": 1,
                     "encode": {"symbols": {"update": {"fillOpacity": {"value": 1}, "opacity": {"value": 1}, "strokeWidth": {"value": 0}}}}}}}},
              {"data": {"name": "d_thr"}, "mark": {"type": "rule", "strokeDash": [8, 4], "strokeWidth": 2},
               "encoding": {"x": {"field": "x1", "type": "temporal"}, "x2": {"field": "x2"}, "y": {"field": "y", "type": "quantitative"},
                 "color": {"datum": "Threshold-AFR", "type": "nominal",
                   "scale": {"domain": ["AFR of first step", "Threshold-AFR"], "range": ["black", "red"]},
                   "legend": {"orient": "none", "legendX": 11, "legendY": 11.5, "title": null, "padding": 0, "labelFontSize": 15, "labelLimit": 500, "symbolSize": 272, "symbolStrokeWidth": 2, "symbolOffset": 7, "labelOffset": 22.5, "rowPadding": 4.6, "symbolType": "M-2,0H2",
                     "encode": {"symbols": {"update": {
                       "strokeWidth": {"value": 2},
                       "strokeDash": {"signal": "datum.value === 'Threshold-AFR' ? [7, 3] : [1, 0]"},
                       "opacity": {"value": 1}}}}}}}},
              {"data": {"name": "d_afr"}, "mark": {"type": "line", "interpolate": "monotone", "strokeWidth": 2},
               "encoding": {"x": {"field": "d", "type": "temporal"}, "y": {"field": "v", "type": "quantitative"}, "color": {"datum": "AFR of first step", "type": "nominal"}}}
            ]
          },
          {
            "width": 240, "height": 203,
            "view": {"stroke": "#333333", "strokeWidth": 1},
            "title": {"text": "(e) G-1 (step) AFR curve", "fontSize": 22, "offset": 30, "frame": "group", "dx": -23},
            "resolve": {"axis": {"x": "independent"}},
            "layer": [
              {"data": {"name": "e_reg"}, "mark": {"type": "rect", "fillOpacity": 0.4},
               "encoding": {
                 "x": {"field": "x1", "type": "temporal", "scale": {"type": "utc", "domain": [{"year":2016,"month":7,"date":3,"utc":true},{"year":2019,"month":12,"date":23,"utc":true}]},
                   "axis": {"orient": "bottom", "title": null, "format": "%Y-%m", "labelAngle": -20, "labelAlign": "center", "labelBaseline": "top", "labelFontSize": 15, "tickSize": 5, "labelPadding": 6, "labelOverlap": false, "domainColor": "#333333",
                     "values": [{"year":2016,"month":8,"date":1,"utc":true},{"year":2017,"month":8,"date":1,"utc":true},{"year":2018,"month":8,"date":1,"utc":true},{"year":2019,"month":8,"date":1,"utc":true}]}},
                 "x2": {"field": "x2"},
                 "y": {"field": "y", "type": "quantitative", "scale": {"domain": [0, 16]},
                   "axis": {"title": "AFR (%)", "values": [0, 5, 10, 15], "labelFontSize": 15, "titleFontSize": 17, "tickSize": 5, "labelPadding": 3, "titlePadding": 4, "domainColor": "#333333"}},
                 "y2": {"datum": 0},
                 "fill": {"datum": "Tolerated-AFR region", "type": "nominal",
                   "scale": {"domain": ["Tolerated-AFR region"], "range": ["#aaaaaa"]},
                   "legend": {"orient": "none", "legendX": 13, "legendY": 57.5, "title": null, "padding": 0, "labelFontSize": 15, "labelLimit": 500, "symbolSize": 272, "symbolStrokeWidth": 0, "symbolOffset": 8, "labelOffset": 25.3, "symbolType": "M-2,-0.65H2V0.65H-2Z", "symbolOpacity": 1,
                     "encode": {"symbols": {"update": {"fillOpacity": {"value": 1}, "opacity": {"value": 1}, "strokeWidth": {"value": 0}}}}}}}},
              {"data": {"name": "e_thr"}, "mark": {"type": "rule", "strokeDash": [8, 4], "strokeWidth": 2},
               "encoding": {"x": {"field": "x1", "type": "temporal",
                   "axis": {"orient": "bottom", "title": null, "domain": false, "format": "%Y-%m", "labelAngle": -20, "labelAlign": "center", "labelBaseline": "top", "labelFontSize": 15, "tickSize": 5, "labelPadding": 6, "labelOverlap": false,
                     "values": [{"year":2017,"month":2,"date":1,"utc":true},{"year":2018,"month":2,"date":1,"utc":true},{"year":2019,"month":2,"date":1,"utc":true}]}},
                 "x2": {"field": "x2"}, "y": {"field": "y", "type": "quantitative"},
                 "color": {"datum": "Threshold-AFR", "type": "nominal",
                   "scale": {"domain": ["AFR of first step", "Threshold-AFR"], "range": ["black", "red"]},
                   "legend": {"orient": "none", "legendX": 13, "legendY": 11.5, "title": null, "padding": 0, "labelFontSize": 15, "labelLimit": 500, "symbolSize": 272, "symbolStrokeWidth": 2, "symbolOffset": 7, "labelOffset": 23.3, "rowPadding": 4.6, "symbolType": "M-2,0H2",
                     "encode": {"symbols": {"update": {
                       "strokeWidth": {"value": 2},
                       "strokeDash": {"signal": "datum.value === 'Threshold-AFR' ? [7, 3] : [1, 0]"},
                       "opacity": {"value": 1}}}}}}}},
              {"data": {"name": "e_afr"}, "mark": {"type": "line", "interpolate": "monotone", "strokeWidth": 2},
               "encoding": {"x": {"field": "d", "type": "temporal", "axis": null}, "y": {"field": "v", "type": "quantitative"}, "color": {"datum": "AFR of first step", "type": "nominal"}}}
            ]
          }
        ]
      }
    ]
  }
]
}
